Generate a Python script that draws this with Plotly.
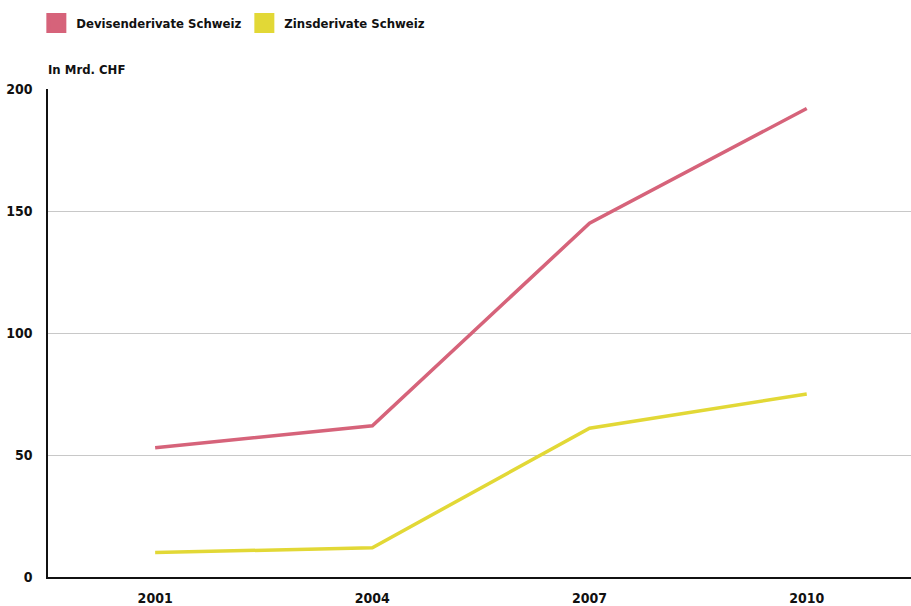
import plotly.graph_objects as go

years = [2001, 2004, 2007, 2010]
devisen = [53, 62, 145, 192]
zins = [10, 12, 61, 75]
series_names = ["Devisenderivate Schweiz", "Zinsderivate Schweiz"]
colors = ["#D6637A", "#E2D836"]
y_ticks = [0, 50, 100, 150, 200]

FONT = "DejaVu Sans Condensed"

fig = go.Figure()
for name, vals, col in zip(series_names, [devisen, zins], colors):
    fig.add_trace(go.Scatter(x=years, y=vals, mode="lines", name=name,
                             line=dict(color=col, width=3.5), showlegend=False))
    fig.add_trace(go.Scatter(x=[None], y=[None], mode="markers", name=name,
                             marker=dict(symbol="square", size=16, color=col,
                                         line=dict(color=col, width=4)),
                             showlegend=True))

fig.update_layout(
    width=911, height=606,
    margin=dict(l=48, r=0, t=89, b=29, autoexpand=False),
    paper_bgcolor="white", plot_bgcolor="white",
    font=dict(family=FONT, size=13, color="#111"),
    showlegend=True,
    legend=dict(orientation="h", x=-0.0135, xanchor="left", y=1.166, yanchor="top",
                font=dict(family=FONT, size=13, color="#111", weight="bold"),
                bgcolor="rgba(0,0,0,0)", entrywidth=163, entrywidthmode="pixels"),
    xaxis=dict(range=[1999.52, 2011.44], tickvals=years, ticktext=[str(y) for y in years],
               showgrid=False, zeroline=False, showline=True, linecolor="#111", linewidth=1.5,
               ticks="", ticklabelstandoff=7, automargin=False,
               tickfont=dict(family=FONT, size=14, color="#111", weight="bold")),
    yaxis=dict(range=[0, 200], tickvals=y_ticks, showgrid=True, gridcolor="#c8c8c8", gridwidth=1,
               zeroline=False, showline=True, linecolor="#111", linewidth=1.5,
               ticks="", ticklabelstandoff=11, automargin=False,
               tickfont=dict(family=FONT, size=14, color="#111", weight="bold")),
    annotations=[dict(text="In Mrd. CHF", xref="paper", yref="paper", x=-0.002, y=1.0,
                      xanchor="left", yanchor="middle", showarrow=False, yshift=20,
                      font=dict(family=FONT, size=13, color="#111", weight="bold"))],
)

fig.write_html("out.html")
